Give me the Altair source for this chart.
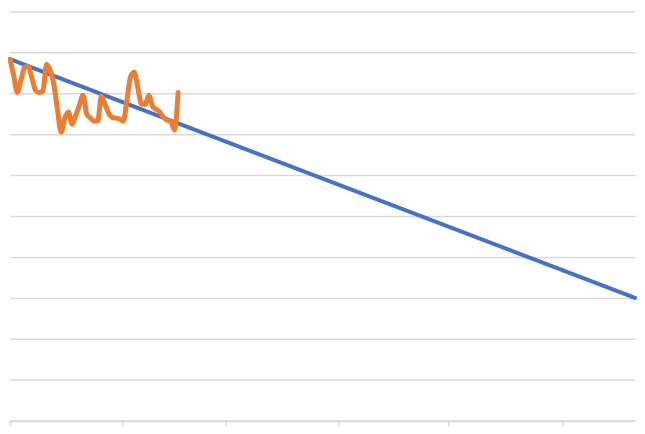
import altair as alt
import pandas as pd

# Orange series: daily values, Jan 1 - Feb 16
orange_start = "2023-01-01"
orange_values = [88.3, 84.4, 80.2, 83.2, 86.3, 86.6, 83.7, 80.7, 80.2, 80.5,
                 87.1, 85.6, 82.2, 75.9, 70.5, 73.9, 75.4, 72.4, 74.6, 77.1,
                 79.5, 74.9, 73.9, 73.2, 73.2, 79.3, 77.3, 75.1, 74.1, 73.9,
                 73.7, 73.2, 78.3, 84.1, 85.1, 81.2, 77.3, 77.3, 79.5, 76.8,
                 76.1, 75.4, 74.1, 73.4, 73.2, 71.0, 80.2]

# Blue series: straight trend
blue_dates = ["2023-01-01", "2023-06-21"]
blue_values = [88.3, 30.0]

orange_df = pd.DataFrame({
    "date": pd.date_range(orange_start, periods=len(orange_values), freq="D").strftime("%Y-%m-%d"),
    "value": orange_values,
})
blue_df = pd.DataFrame({"date": blue_dates, "value": blue_values})

xscale = alt.Scale(type="utc",
                   domain=[alt.DateTime(year=2023, month=1, date=1, utc=True),
                           alt.DateTime(year=2023, month=6, date=21, utc=True)])
xaxis = alt.Axis(labels=False, grid=False, title=None, tickCount="month",
                 domainColor="#d9d9d9", domainWidth=2, tickColor="#d9d9d9",
                 tickWidth=1.5, tickSize=5)
yscale = alt.Scale(domain=[0, 100])
yaxis = alt.Axis(labels=False, ticks=False, domain=False, title=None,
                 values=list(range(0, 101, 10)), gridColor="#d9d9d9", gridWidth=1.5)

blue = alt.Chart(blue_df).mark_line(color="#4472C4", strokeWidth=4, strokeCap="round").encode(
    x=alt.X("date:T", scale=xscale, axis=xaxis),
    y=alt.Y("value:Q", scale=yscale, axis=yaxis),
)
orange = alt.Chart(orange_df).mark_line(color="#ED7D31", strokeWidth=5, strokeCap="round",
                                        strokeJoin="round", interpolate="monotone").encode(
    x=alt.X("date:T", scale=xscale, axis=xaxis),
    y=alt.Y("value:Q", scale=yscale, axis=yaxis),
)

chart = alt.layer(blue, orange).properties(
    width=626, height=410,
    autosize=alt.AutoSizeParams(type="none"),
    padding={"left": 2, "top": 3, "right": 2, "bottom": 10},
).configure_view(stroke=None)

chart.save("out.html", embed_options={"renderer": "svg", "actions": False})
